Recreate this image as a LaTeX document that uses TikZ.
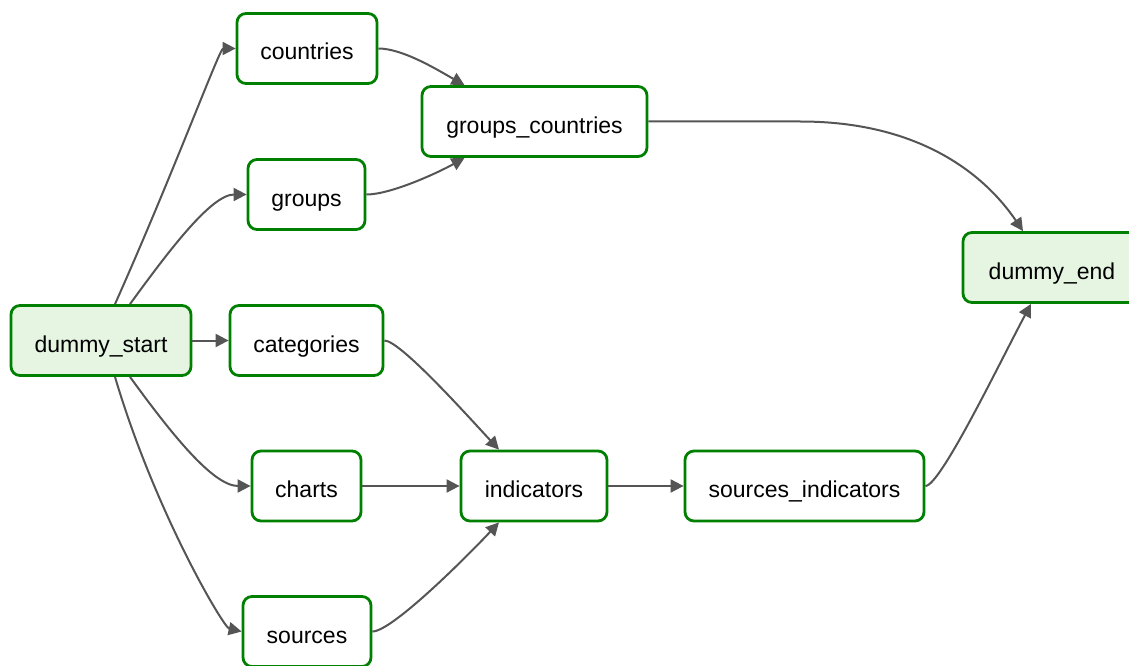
\documentclass[tikz,border=0pt]{standalone}
\usepackage{fontspec}
\setmainfont{Liberation Sans}
\usetikzlibrary{arrows.meta}
\definecolor{taskborder}{RGB}{0,128,0}
\definecolor{dummyfill}{RGB}{230,245,226}
\definecolor{edgegray}{RGB}{85,85,85}
\tikzset{
  task/.style={draw=taskborder, line width=2.8pt, rounded corners=9pt, fill=white,
    minimum height=70pt, inner sep=0pt, text=black,
    text height=23pt, text depth=0pt,
    font=\fontsize{23}{27}\selectfont},
  dummy/.style={task, fill=dummyfill},
  flow/.style={draw=edgegray, line width=2pt, -{Triangle[length=13pt,width=13pt]}},
}
\begin{document}
\begin{tikzpicture}[x=1pt,y=-1pt]
\useasboundingbox (0,0) rectangle (1129,666);
\clip (0,0) rectangle (1129,666);

% tasks
\node[dummy, minimum width=180pt] (ds) at (101,340.5) {dummy\_start};
\node[task, minimum width=140pt] (cn) at (307,48.5) {countries};
\node[task, minimum width=117pt] (gr) at (306.5,194.5) {groups};
\node[task, minimum width=153pt] (ct) at (306.5,340.5) {categories};
\node[task, minimum width=109pt] (ch) at (306.5,486) {charts};
\node[task, minimum width=128pt] (so) at (307,631.5) {sources};
\node[task, minimum width=225pt] (gc) at (534.5,121.5) {groups\_countries};
\node[task, minimum width=146pt] (in) at (534,486) {indicators};
\node[task, minimum width=239pt] (si) at (804.5,486) {sources\_indicators};
\node[dummy, minimum width=178pt] (de) at (1052,267.5) {dummy\_end};

% dependencies
\draw[flow] ([xshift=14pt]ds.north) .. controls +(58,-130) and +(-16,0) .. (cn.west);
\draw[flow] ([xshift=29pt]ds.north) .. controls +(40,-55) and +(-35,0) .. (gr.west);
\draw[flow] (ds.east) -- (ct.west);
\draw[flow] ([xshift=29pt]ds.south) .. controls +(40,55) and +(-38,0) .. (ch.west);
\draw[flow] ([xshift=14pt]ds.south) .. controls +(40,135) and +(-18,-4) .. (so.west);

\draw[flow] (cn.east) .. controls +(25,0) and +(-25,-14) .. ([xshift=-70pt]gc.north);
\draw[flow] (gr.east) .. controls +(25,0) and +(-25,14) .. ([xshift=-70pt]gc.south);

\draw[flow] (ct.east) .. controls +(16,0) and +(-29,-31) .. ([xshift=-35pt]in.north);
\draw[flow] (ch.east) -- (in.west);
\draw[flow] (so.east) .. controls +(20,0) and +(-30,32) .. ([xshift=-35pt]in.south);

\draw[flow] (in.east) -- (si.west);

\draw[flow] (gc.east) -- +(152,0) .. controls +(120,0) and +(-38,-56) .. ([xshift=-29pt]de.north);
\draw[flow] (si.east) .. controls +(15,0) and +(-31,58) .. ([xshift=-21pt]de.south);
\end{tikzpicture}
\end{document}
